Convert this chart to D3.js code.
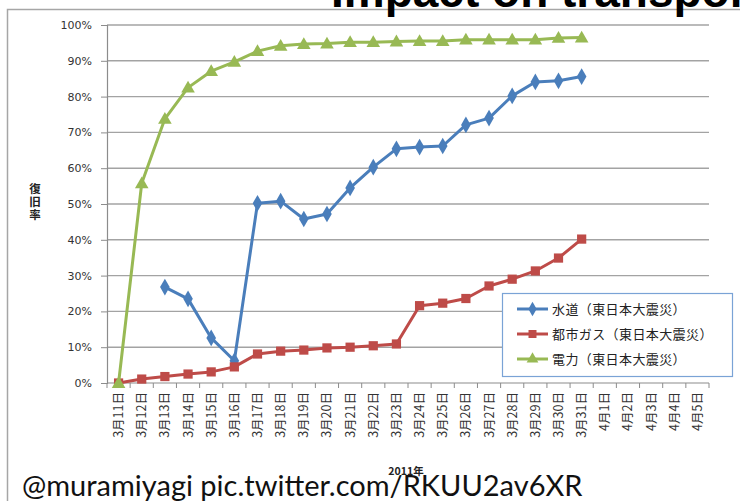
<!DOCTYPE html>
<html>
<head>
<meta charset="utf-8">
<script src="https://cdn.jsdelivr.net/npm/d3@7"></script>
<style>
  html, body { margin: 0; padding: 0; background: #fff; }
  svg { display: block; }
</style>
</head>
<body>
<svg id="chart" width="740" height="501"></svg>
<script>
// Restoration rate after the Great East Japan Earthquake, March 11 – April 5, 2011
const dates = ["3月11日","3月12日","3月13日","3月14日","3月15日","3月16日","3月17日","3月18日","3月19日","3月20日",
  "3月21日","3月22日","3月23日","3月24日","3月25日","3月26日","3月27日","3月28日","3月29日","3月30日","3月31日",
  "4月1日","4月2日","4月3日","4月4日","4月5日"];

// water supply (no data for the first two days)
const water = [null, null, 26.8, 23.5, 12.6, 6.2, 50.2, 50.8, 45.8, 47.2, 54.5, 60.3, 65.4, 65.9, 66.2, 72.1, 74.0, 80.2, 84.1, 84.4, 85.6];
// city gas
const gas = [0, 1.1, 1.8, 2.5, 3.1, 4.5, 8.1, 8.9, 9.2, 9.8, 10.0, 10.4, 10.9, 21.6, 22.3, 23.6, 27.1, 29.0, 31.3, 34.9, 40.2];
// electric power
const power = [0, 55.8, 73.8, 82.5, 87.1, 89.7, 92.7, 94.2, 94.7, 94.8, 95.2, 95.2, 95.4, 95.5, 95.5, 95.9, 95.9, 95.9, 95.9, 96.4, 96.5];

const yTicks = [0, 10, 20, 30, 40, 50, 60, 70, 80, 90, 100];
const seriesNames = ["水道（東日本大震災）", "都市ガス（東日本大震災）", "電力（東日本大震災）"];
const seriesColors = ["#4a7ebb", "#be4b48", "#98b954"];
const markerShapes = [d3.symbolDiamond, d3.symbolSquare, d3.symbolTriangle];
const markerSizes = [80, 85, 80];

const svg = d3.select("#chart");
const font = "'Noto Sans CJK JP', 'DejaVu Sans', sans-serif";

// outer chart frame
svg.append("rect")
  .attr("x", 7.5).attr("y", 9.5).attr("width", 760).attr("height", 520)
  .attr("fill", "none").attr("stroke", "#a6a6a6").attr("stroke-width", 1.5);

const x = d3.scaleBand().domain(dates).range([107, 709]);
const y = d3.scaleLinear().domain([0, 100]).range([383, 25]);

// horizontal gridlines
svg.append("g").selectAll("line").data(yTicks.filter(t => t > 0)).join("line")
  .attr("x1", 107).attr("x2", 709)
  .attr("y1", d => y(d)).attr("y2", d => y(d))
  .attr("stroke", "#a3a3a3").attr("stroke-width", 1.4);

// y axis
const yAxis = svg.append("g").attr("transform", "translate(107,0)")
  .call(d3.axisLeft(y).tickValues(yTicks).tickSize(6).tickPadding(9).tickFormat(d => d + "%"));
yAxis.select(".domain").attr("stroke", "#8c8c8c").attr("stroke-width", 1.2);
yAxis.selectAll(".tick line").attr("stroke", "#8c8c8c");
yAxis.selectAll("text").attr("font-family", "'DejaVu Sans', sans-serif").attr("font-size", 11).attr("fill", "#333");

// x axis: ticks on category boundaries, labels rotated
const xAxisG = svg.append("g").attr("transform", "translate(0,383)");
xAxisG.append("line").attr("x1", 107).attr("x2", 709).attr("y1", 0).attr("y2", 0)
  .attr("stroke", "#8c8c8c").attr("stroke-width", 1.2);
xAxisG.selectAll("line.tk").data(dates.concat(["end"])).join("line").attr("class", "tk")
  .attr("x1", (d, i) => 107 + i * x.step()).attr("x2", (d, i) => 107 + i * x.step())
  .attr("y1", 0).attr("y2", 5).attr("stroke", "#8c8c8c");
xAxisG.selectAll("text").data(dates).join("text")
  .attr("transform", d => `translate(${x(d) + x.bandwidth() / 2 + 4.5},9) rotate(-90)`)
  .attr("text-anchor", "end")
  .attr("font-family", font).attr("font-size", 12.5).attr("fill", "#333")
  .text(d => d);

// axis titles
svg.append("text").attr("x", 35).attr("y", 183)
  .attr("writing-mode", "vertical-rl").attr("letter-spacing", 1.5)
  .attr("font-family", font).attr("font-weight", "bold")
  .attr("font-size", 11.5).attr("fill", "#222").text("復旧率");
svg.append("text").attr("x", 406).attr("y", 475).attr("text-anchor", "middle")
  .attr("font-family", font).attr("font-weight", "bold").attr("font-size", 10.5).attr("fill", "#222")
  .text("2011年");

// series
const allSeries = [water, gas, power];
allSeries.forEach((vals, si) => {
  const pts = vals.map((v, i) => ({ d: dates[i], v })).filter(p => p.v !== null);
  const line = d3.line().x(p => x(p.d) + x.bandwidth() / 2).y(p => y(p.v));
  svg.append("path").datum(pts).attr("d", line)
    .attr("fill", "none").attr("stroke", seriesColors[si]).attr("stroke-width", 3)
    .attr("stroke-linejoin", "round");
  svg.append("g").selectAll("path").data(pts).join("path")
    .attr("transform", p => `translate(${x(p.d) + x.bandwidth() / 2},${y(p.v) + (si === 2 ? 1 : 0)})`)
    .attr("d", d3.symbol(markerShapes[si], markerSizes[si]))
    .attr("fill", seriesColors[si]);
});

// legend
const lg = svg.append("g");
lg.append("rect").attr("x", 502.5).attr("y", 293.5).attr("width", 230).attr("height", 83)
  .attr("fill", "#fff").attr("stroke", "#7aa3d6").attr("stroke-width", 1.2);
seriesNames.forEach((name, i) => {
  const cy = 309 + i * 25;
  lg.append("line").attr("x1", 517).attr("x2", 548).attr("y1", cy).attr("y2", cy)
    .attr("stroke", seriesColors[i]).attr("stroke-width", 3);
  lg.append("path").attr("transform", `translate(532.5,${cy})`)
    .attr("d", d3.symbol(markerShapes[i], markerSizes[i] * 0.75)).attr("fill", seriesColors[i]);
  lg.append("text").attr("x", 552).attr("y", cy + 4.5)
    .attr("font-family", font).attr("font-size", 13).attr("letter-spacing", 0.4)
    .attr("fill", "#222").text(name);
});

// heading, partly cut off at the top edge
svg.append("text").attr("x", 331).attr("y", 7)
  .attr("font-family", "'Liberation Sans', Arial, sans-serif").attr("font-weight", "bold")
  .attr("font-size", 46).attr("fill", "#000").text("Impact on transport");

// source credit
svg.append("text").attr("x", 22).attr("y", 496)
  .attr("font-family", "Lato, 'Open Sans', sans-serif").attr("font-size", 29).attr("fill", "#111")
  .text("@muramiyagi pic.twitter.com/RKUU2av6XR");
</script>
</body>
</html>
